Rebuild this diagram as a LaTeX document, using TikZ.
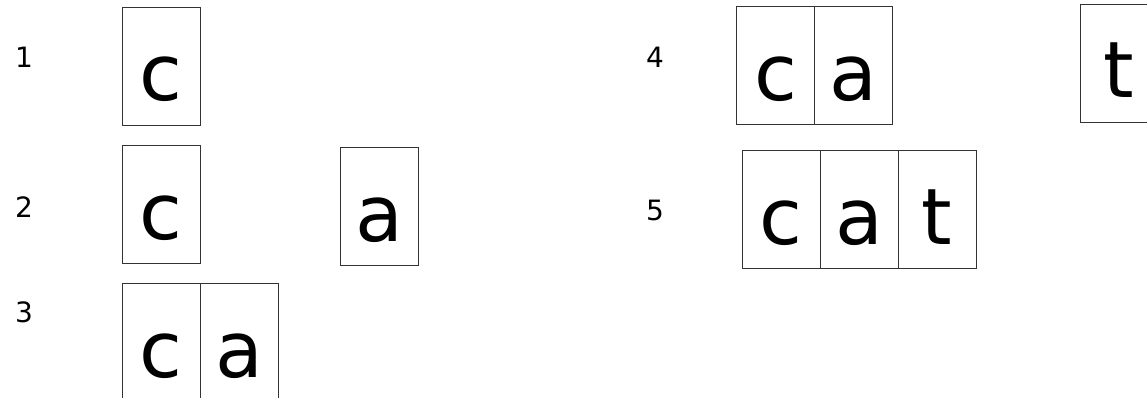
\documentclass[tikz,border=0pt]{standalone}
\usepackage{fontspec}
\setmainfont{DejaVu Sans}
\tikzset{
  cell/.style={draw=black!80, line width=0.9pt, minimum width=78pt, inner sep=0pt,
    text height=94pt, text depth=24pt, font=\fontsize{78}{78}\selectfont},
  rowlabel/.style={anchor=base, inner sep=0pt, font=\fontsize{28}{28}\selectfont}
}
\begin{document}
\begin{tikzpicture}[x=1pt,y=-1pt]
\useasboundingbox (0,0) rectangle (1147,398);
\clip (0,0) rectangle (1147,398);
% row labels
\node[rowlabel] (l1) at (24,68) {1};
\node[rowlabel] (l2) at (24,217) {2};
\node[rowlabel] (l3) at (24,322) {3};
\node[rowlabel] (l4) at (655,68) {4};
\node[rowlabel] (l5) at (655,220) {5};
% step 1
\node[cell] (r1c) at (161,66) {c};
% step 2
\node[cell] (r2c) at (161,204) {c};
\node[cell] (r2a) at (379,206.5) {a};
% step 3
\node[cell] (r3c) at (161,342) {c};
\node[cell] (r3a) at (239,342) {a};
% step 4
\node[cell] (r4c) at (775.5,65.5) {c};
\node[cell] (r4a) at (853.5,65.5) {a};
\node[cell] (r4t) at (1119,63) {t};
% step 5
\node[cell] (r5c) at (781,209) {c};
\node[cell] (r5a) at (859,209) {a};
\node[cell] (r5t) at (937,209) {t};
\end{tikzpicture}
\end{document}
